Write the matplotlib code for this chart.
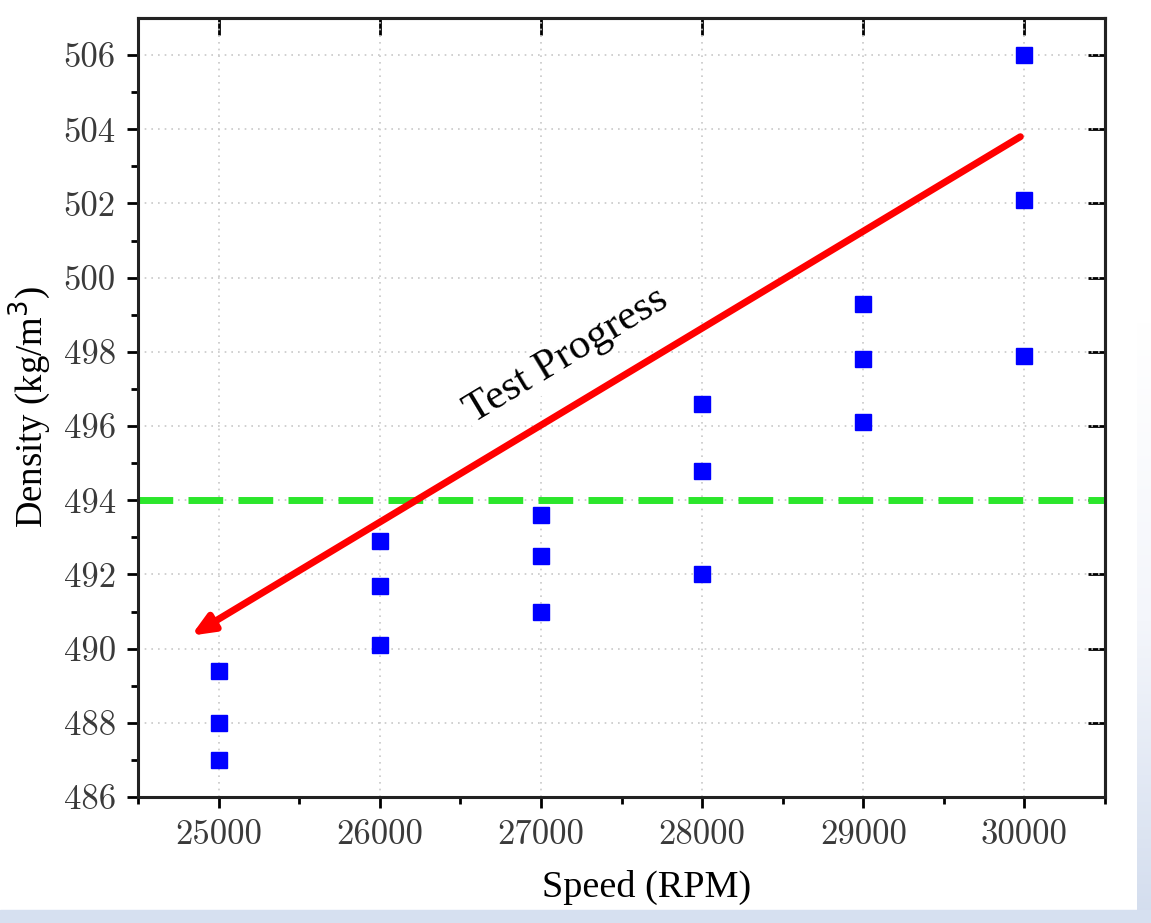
import numpy as np
import matplotlib
matplotlib.use("Agg")
import matplotlib.pyplot as plt
from matplotlib.patches import Rectangle
from matplotlib.colors import LinearSegmentedColormap

speeds = [25000, 25000, 25000, 26000, 26000, 26000, 27000, 27000, 27000,
          28000, 28000, 28000, 29000, 29000, 29000, 30000, 30000, 30000]
density = [489.4, 488.0, 487.0, 492.9, 491.7, 490.1, 493.6, 492.5, 491.0,
           496.6, 494.8, 492.0, 499.3, 497.8, 496.1, 506.0, 502.1, 497.9]
threshold = 494
arrow_start = (29975, 503.8)
arrow_end = (24830, 490.35)
label_pos = (27160, 497.9)
x_ticks = [25000, 26000, 27000, 28000, 29000, 30000]
y_ticks = [486, 488, 490, 492, 494, 496, 498, 500, 502, 504, 506]

plt.rcParams["font.serif"] = ["Liberation Serif", "DejaVu Serif"]

fig = plt.figure(figsize=(11.51, 9.23), dpi=100)
fig.patch.set_facecolor("white")

# background decoration (light blue strips)
bg = fig.add_axes([0, 0, 1, 1], zorder=-10)
bg.set_axis_off()
grad = np.linspace(0, 1, 200).reshape(-1, 1)
cm = LinearSegmentedColormap.from_list("g", ["#ffffff", "#f4f6fb", "#d3ddee"])
bg.imshow(grad, extent=[1137, 1151, 923, 320], aspect="auto", cmap=cm, origin="upper")
bg.add_patch(Rectangle((0, 910), 1151, 13, color="#d6e0f0"))
bg.set_xlim(0, 1151)
bg.set_ylim(923, 0)

ax = fig.add_axes([138 / 1151, 1 - 797 / 923, (1105 - 138) / 1151, (797 - 18) / 923])
ax.set_xlim(24500, 30500)
ax.set_ylim(486, 507)

ax.grid(True, which="major", color="#c8c8c8", linestyle=(0, (1, 3)), linewidth=1.2)
ax.set_axisbelow(True)

ax.axhline(threshold, color="#2be62b", linestyle=(0, (5, 2.2)), linewidth=5, zorder=2)

ax.plot(speeds, density, linestyle="none", marker="s", markersize=11.5,
        color="#0000ff", zorder=3)

ax.annotate("", xy=arrow_end, xytext=arrow_start,
            arrowprops=dict(arrowstyle="-|>,head_length=1.3,head_width=0.55",
                            color="#ff0000", lw=5, shrinkA=0, shrinkB=0),
            zorder=4)

ax.text(label_pos[0], label_pos[1], "Test Progress", rotation=31, rotation_mode="anchor",
        ha="center", va="center", fontsize=31, family="serif",
        bbox=dict(facecolor="white", edgecolor="none", pad=2), zorder=3.5)

ax.set_xticks(x_ticks)
ax.set_yticks(y_ticks)
ax.set_xticks(np.arange(24500, 30501, 500), minor=True)
ax.set_yticks(np.arange(487, 507, 2), minor=True)
ax.tick_params(axis="both", which="major", direction="out", length=8, width=2,
               labelsize=25, labelcolor="#3a3a3a", pad=8)
ax.tick_params(axis="both", which="minor", direction="out", length=5, width=2)
ax.set_xticklabels([str(v) for v in x_ticks], fontfamily="cmr10")
ax.set_yticklabels([str(v) for v in y_ticks], fontfamily="cmr10")

# ticks on top and right (inward)
axt = ax.secondary_xaxis("top")
axt.set_xticks(x_ticks)
axt.minorticks_off()
axt.tick_params(which="both", direction="in", length=12, width=2, labeltop=False)
axr = ax.secondary_yaxis("right")
axr.set_yticks(y_ticks)
axr.minorticks_off()
axr.tick_params(which="both", direction="in", length=12, width=2, labelright=False)
for s in list(axt.spines.values()) + list(axr.spines.values()):
    s.set_linewidth(2.2)
    s.set_color("#222222")

for s in ax.spines.values():
    s.set_linewidth(2.2)
    s.set_color("#222222")

ax.set_xlabel("Speed (RPM)", fontsize=27.5, family="serif")
ax.xaxis.set_label_coords((647 - 138) / 967, -0.094)
ax.set_ylabel("Density (kg/m$^3$)", fontsize=26.5, family="serif", labelpad=8)

fig.savefig("out.png", dpi=100)
